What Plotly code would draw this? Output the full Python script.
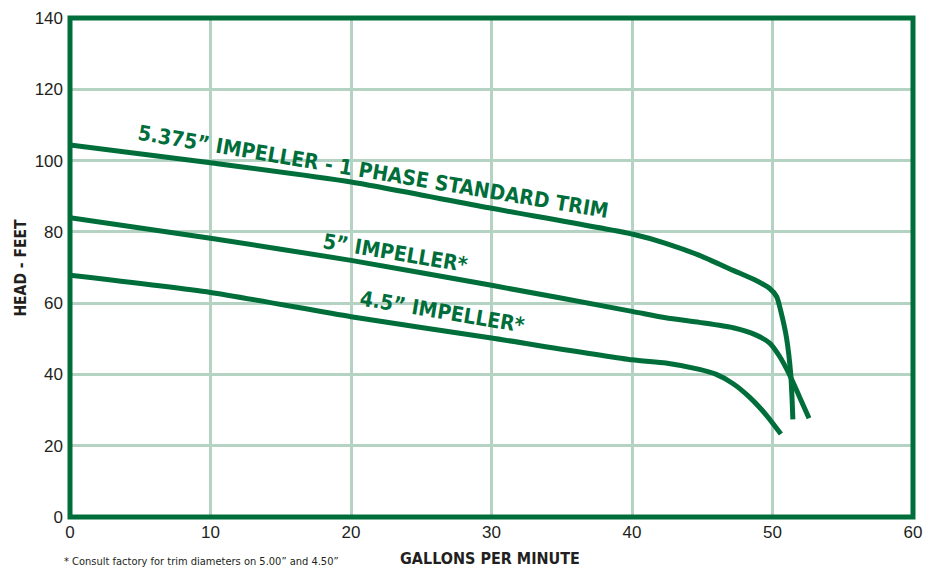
import plotly.graph_objects as go

# GPM vs head readings for each impeller trim
gpm_5375 = [0, 10, 20, 30, 40, 42.4, 44.8, 47.2, 48.8, 49.8, 50.3, 50.6, 51.0, 51.3, 51.4, 51.45]
head_5375 = [104.4, 99.4, 94.0, 86.6, 79.4, 76.8, 73.4, 69.2, 66.4, 64.1, 61.8, 57.6, 50.2, 40.0, 32.5, 27.4]

gpm_5 = [0, 10, 20, 30, 40, 42.4, 44.8, 47.2, 48.8, 49.8, 50.5, 51.2, 51.9, 52.6]
head_5 = [84.0, 78.2, 72.0, 65.0, 57.7, 55.9, 54.6, 53.1, 51.1, 48.8, 45.1, 40.0, 33.9, 27.7]

gpm_45 = [0, 10, 20, 30, 40, 42.4, 44.8, 46.0, 47.2, 48.4, 49.6, 50.6]
head_45 = [67.8, 63.0, 56.2, 50.2, 44.1, 43.2, 41.4, 40.0, 37.4, 33.5, 28.4, 23.3]

curve_labels = ['5.375\u201d IMPELLER - 1 PHASE STANDARD TRIM', '5\u201d IMPELLER*', '4.5\u201d IMPELLER*']
label_x = [21.6, 23.1, 26.5]
label_y = [96.9, 74.0, 57.6]

x_ticks = [0, 10, 20, 30, 40, 50, 60]
y_ticks = [0, 20, 40, 60, 80, 100, 120, 140]

GREEN = '#006e3a'
GRID = '#b4d3c3'
TXT = '#231f20'
COND = 'DejaVu Sans Condensed, Liberation Sans Narrow, sans-serif'

fig = go.Figure()
for xs, ys in [(gpm_5375, head_5375), (gpm_5, head_5), (gpm_45, head_45)]:
    fig.add_trace(go.Scatter(x=xs, y=ys, mode='lines',
                             line=dict(color=GREEN, width=5, shape='spline', smoothing=0.6),
                             showlegend=False, hoverinfo='skip'))

for txt, lx, ly in zip(curve_labels, label_x, label_y):
    fig.add_annotation(x=lx, y=ly, text=txt, showarrow=False, textangle=9.5,
                       xanchor='center', yanchor='middle',
                       font=dict(family=COND, size=21, color=GREEN, weight=700))

fig.add_annotation(xref='paper', yref='paper', x=-0.0592, y=0.5, text='HEAD - FEET',
                   showarrow=False, textangle=-90, xanchor='center', yanchor='middle',
                   font=dict(family=COND, size=15.5, color=TXT, weight=700))
fig.add_annotation(xref='paper', yref='paper', x=0.498, y=-0.084, text='GALLONS PER MINUTE',
                   showarrow=False, xanchor='center', yanchor='middle',
                   font=dict(family=COND, size=16, color=TXT, weight=700))
fig.add_annotation(xref='paper', yref='paper', x=0.156, y=-0.09,
                   text='* Consult factory for trim diameters on 5.00\u201d and 4.50\u201d',
                   showarrow=False, xanchor='center', yanchor='middle',
                   font=dict(family=COND, size=11, color=TXT))

fig.add_shape(type='rect', xref='paper', yref='paper', x0=0, x1=1, y0=0, y1=1,
              line=dict(color=GREEN, width=5))

# page body adds an 8px offset, so the figure is sized/margined to compensate
fig.update_layout(
    width=928, height=561,
    margin=dict(l=61.5, r=22.5, t=10, b=52.2),
    plot_bgcolor='white', paper_bgcolor='white',
    xaxis=dict(range=[0, 60], tickvals=x_ticks, showgrid=True, gridcolor=GRID, gridwidth=2.5,
               zeroline=False, showline=False, ticks='', ticklabelstandoff=3,
               ticklabeloverflow='allow', automargin=False,
               tickfont=dict(family='Liberation Sans', size=17, color=TXT)),
    yaxis=dict(range=[0, 140], tickvals=y_ticks, showgrid=True, gridcolor=GRID, gridwidth=2.5,
               zeroline=False, showline=False, ticks='', ticklabelstandoff=6,
               ticklabeloverflow='allow', automargin=False,
               tickfont=dict(family='Liberation Sans', size=17, color=TXT)),
)

fig.write_html('out.html')
